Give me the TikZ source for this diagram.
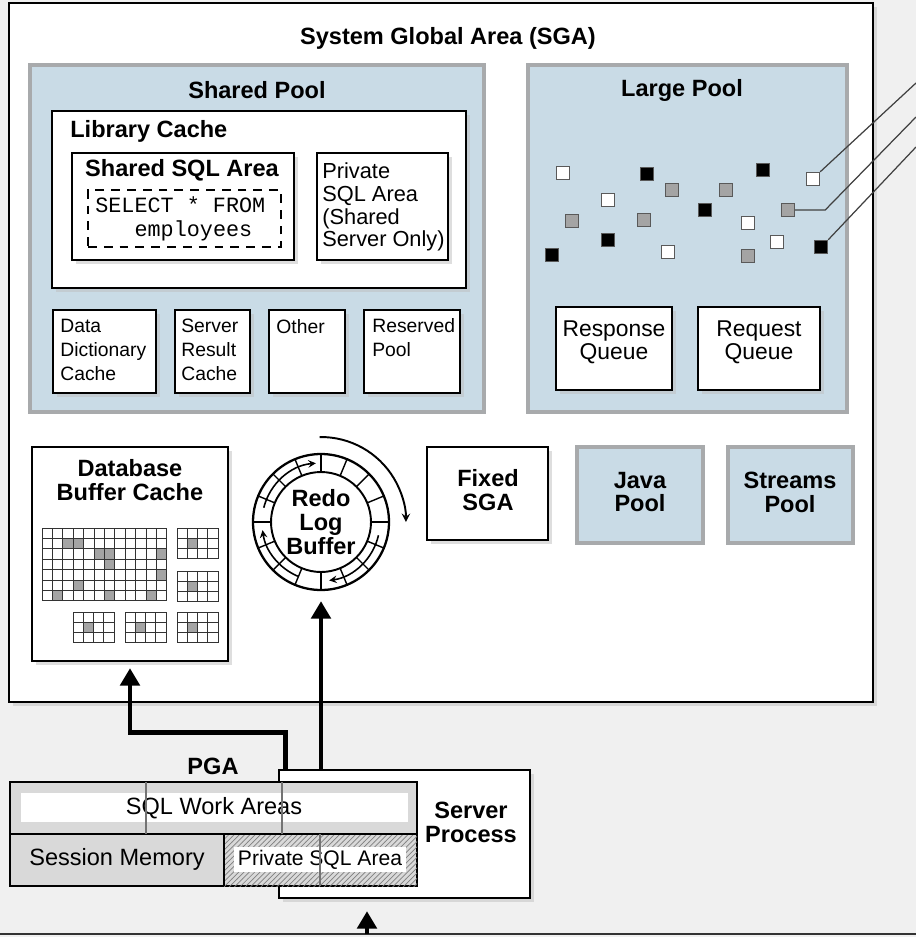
\documentclass[tikz,border=0pt]{standalone}
\usepackage{fontspec}
\setmainfont{Liberation Sans}
\setmonofont{Liberation Mono}
\usetikzlibrary{positioning,fit,arrows.meta,patterns,shadows}

\definecolor{backgr}{HTML}{F0F0F0}
\definecolor{poolblue}{HTML}{C9DBE6}
\definecolor{poolrim}{HTML}{A8AAAC}
\definecolor{cellgray}{HTML}{A4A4A4}
\definecolor{pgagray}{HTML}{D9D9D9}

\begin{document}
\begin{tikzpicture}[x=0.02cm,y=-0.02cm,>=stealth,
    box node/.style={draw,line width=1.3pt,fill=white,inner sep=0pt,drop shadow={shadow xshift=2pt,shadow yshift=-2pt,fill=black!25,opacity=0.5}},
    pool node/.style={draw=poolrim,line width=2.6pt,fill=poolblue,inner sep=0pt},
    head node/.style={font=\fontsize{13.4}{13.6}\selectfont\bfseries,align=center,inner sep=0pt},
    txt node/.style={font=\fontsize{13}{13}\selectfont,align=center,inner sep=0pt},
    small node/.style={font=\fontsize{11}{13.6}\selectfont,align=left,anchor=west,inner sep=0pt},
    sq node/.style={draw=black!65,line width=0.8pt,minimum size=0.26cm,inner sep=0pt},
    grid line/.style={black!80,line width=0.5pt},
    flow/.style={line width=2.8pt,-{Triangle[width=11pt,length=10pt]}},
    lead/.style={black!75,line width=0.7pt}]
\useasboundingbox (0,0) rectangle (916,937);
\fill[backgr] (0,0) rectangle (916,937);

% SGA
\node[box node,fit={(9,3) (873,702)}] (1) {};
\node[head node] (1a) at (448,38) {System Global Area (SGA)};

% shared pool
\node[pool node,fit={(30,65) (484,412)}] (2) {};
\node[head node] (2a) at (257,90) {Shared Pool};
\node[box node,fit={(52,111) (466,288)}] (3) {};
\node[head node,anchor=west] (3a) at (70,131) {Library Cache};
\node[box node,fit={(72,153) (294,260)}] (4) {};
\node[head node] (4a) at (182,170) {Shared SQL Area};
\node[draw,dash pattern=on 5pt off 4pt,line width=0.7pt,inner sep=0pt,fit={(88,190) (281,247)}] (5) {};
\node[font=\fontsize{12.4}{13.6}\selectfont\ttfamily,align=left,anchor=west,inner sep=0pt] (5a) at (95,219) {SELECT * FROM\\\phantom{SEL}employees};
\node[box node,fit={(317,153) (448,260)}] (6) {};
\node[small node,font=\fontsize{12.4}{13}\selectfont] (6a) at (322,207) {Private\\SQL Area\\(Shared\\Server Only)};
\node[box node,fit={(53,310) (156,393)}] (7) {};
\node[box node,fit={(175,310) (250,393)}] (8) {};
\node[box node,fit={(269,310) (345,393)}] (9) {};
\node[box node,fit={(364,310) (460,393)}] (10) {};
\node[small node] (7a) at (60,350) {Data\\Dictionary\\Cache};
\node[small node] (8a) at (181,350) {Server\\Result\\Cache};
\node[small node] (9a) at (276,327) {Other};
\node[small node] (10a) at (372,338) {Reserved\\Pool};

% large pool
\node[pool node,fit={(528,65) (847,412)}] (11) {};
\node[head node] (11a) at (682,90) {Large Pool};
\foreach \x/\y/\c [count=\i] in {563/173/white,647/174/black,672/190/cellgray,726/190/cellgray,763/170/black,813/179/white,
    608/200/white,572/221/cellgray,644/220/cellgray,705/210/black,748/223/white,788/210/cellgray,
    608/240/black,668/252/white,777/242/white,748/256/cellgray,552/255/black,821/247/black}
  \node[sq node,fill=\c] (s\i) at (\x,\y) {};
\node[box node,fit={(556,307) (672,390)}] (12) {};
\node[box node,fit={(698,307) (820,390)}] (13) {};
\node[txt node] (12a) at (614,342) {Response\\Queue};
\node[txt node] (13a) at (759,342) {Request\\Queue};
\coordinate (c1) at (916,83);
\coordinate (c2) at (916,117);
\coordinate (c3) at (916,147);
\draw[lead] (s6.north east) -- (c1);
\draw[lead] (s12.east) -- ++(30,0) -- (c2);
\draw[lead] (s18.north east) -- (c3);

% buffer cache
\node[box node,fit={(32,447) (228,661)}] (14) {};
\node[head node] (14a) at (130,480) {Database\\Buffer Cache};
\foreach \c/\r in {2/1,3/1,5/2,6/2,11/2,6/3,11/4,3/5,1/6,6/6,10/6}
  \fill[cellgray] (42+\c*10.4,528+\r*10.4) rectangle ++(10.4,10.4);
\foreach \i in {0,...,12} \draw[grid line] (42+\i*10.4,528) -- ++(0,72.8);
\foreach \j in {0,...,7} \draw[grid line] (42,528+\j*10.4) -- ++(124.8,0);
\foreach \gx/\gy in {177/528,177/571,73/612,125/612,177/612} {
  \fill[cellgray] (\gx+10.3,\gy+10.3) rectangle ++(10.3,10.3);
  \foreach \i in {0,...,4} \draw[grid line] (\gx+\i*10.3,\gy) -- ++(0,30.9);
  \foreach \j in {0,...,3} \draw[grid line] (\gx,\gy+\j*10.3) -- ++(41.2,0);
}

% redo log buffer
\node[draw,circle,line width=1.3pt,fill=white,minimum size=2.72cm,head node] (15) at (321,522) {Redo\\Log\\Buffer};
\draw[line width=1.1pt] (15.center) circle[radius=1cm];
\foreach \a in {0,22.5,...,337.5} \draw[line width=0.8pt] (15.center) ++(\a:1cm) -- ++(\a:0.36cm);
\foreach \s/\e in {166/95,247/188,347/278}
  \draw[line width=0.9pt,->] (15.center) ++(\s:1.18cm) arc[start angle=\s,end angle=\e,radius=1.18cm];
\draw[line width=1.1pt,->] (15.center) ++(91:1.7cm) arc[start angle=91,end angle=0,radius=1.7cm];

\node[box node,fit={(427,447) (548,540)}] (16) {};
\node[pool node,fit={(577,447) (703,543)}] (17) {};
\node[pool node,fit={(728,447) (853,543)}] (18) {};
\node[head node] (16a) at (488,490) {Fixed\\SGA};
\node[head node] (17a) at (640,492) {Java\\Pool};
\node[head node] (18a) at (790,492) {Streams\\Pool};

% server process and PGA
\node[box node,fit={(279,770) (530,898)}] (19) {};
\node[head node] (19a) at (471,822) {Server\\Process};
\node[draw,line width=1.2pt,fill=pgagray,inner sep=0pt,fit={(10,782) (417,886)}] (20) {};
\node[head node] (20a) at (213,766) {PGA};
\node[fill=white,inner sep=0pt,fit={(21,793) (408,822)}] (21) {};
\node[font=\fontsize{13.4}{13.6}\selectfont,inner sep=0pt] (21a) at (214,808) {SQL Work Areas};
\fill[pattern=north east lines,pattern color=black!50] (224,834) rectangle (417,886);
\node[fill=white,inner sep=0pt,fit={(234,847) (406,872)}] (23) {};
\node[font=\fontsize{12}{12}\selectfont,inner sep=0pt] (23a) at (320,860) {Private SQL Area};
\node[font=\fontsize{13.4}{13.6}\selectfont,inner sep=0pt] (22) at (117,859) {Session Memory};
\draw[line width=1.2pt] (10,834) -- (417,834) (224,834) -- (224,886);
\draw[black!55,line width=0.8pt] (146,782) -- (146,834) (282,782) -- (282,834) (320,834) -- (320,886);

\draw[flow,shorten >=0.12cm] ([xshift=0.16cm]19.north west) |- ([yshift=-1.4cm]14.south) -- (14.south);
\draw[flow,shorten >=0.2cm] (15.south |- 19.north) -- (15.south);
\draw[line width=1.6pt,black!80] (0,934) -- (916,934);
\coordinate (c4) at (367,934);
\draw[flow,shorten >=0.24cm] (c4) -- (c4 |- 19.south);
\end{tikzpicture}
\end{document}
